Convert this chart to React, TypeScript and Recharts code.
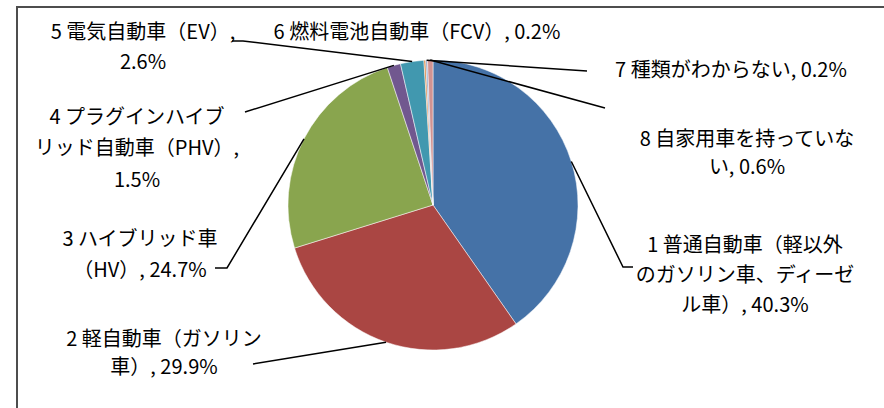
import { PieChart, Pie, Cell } from 'recharts'

const categories = [
  '1 普通自動車（軽以外のガソリン車、ディーゼル車）',
  '2 軽自動車（ガソリン車）',
  '3 ハイブリッド車（HV）',
  '4 プラグインハイブリッド自動車（PHV）',
  '5 電気自動車（EV）',
  '6 燃料電池自動車（FCV）',
  '7 種類がわからない',
  '8 自家用車を持っていない',
]
const shares = [40.3, 29.9, 24.7, 1.5, 2.6, 0.2, 0.2, 0.6]

// label text broken into lines as in the reference
const labelLines = [
  ['1 普通自動車（軽以外', 'のガソリン車、ディーゼ', 'ル車）, 40.3%'],
  ['2 軽自動車（ガソリン', '車）, 29.9%'],
  ['3 ハイブリッド車', '（HV）, 24.7%'],
  ['4 プラグインハイブ', 'リッド自動車（PHV）,', '1.5%'],
  ['5 電気自動車（EV）,', '2.6%'],
  ['6 燃料電池自動車（FCV）, 0.2%'],
  ['7 種類がわからない, 0.2%'],
  ['8 自家用車を持っていな', 'い, 0.6%'],
]

const colors = ['#4572A7', '#AA4643', '#89A54E', '#71588F', '#4198AF', '#DB843D', '#93A9CF', '#D19392']

// where each label sits and where its leader line bends
const labelLayout = [
  { x: 745, y: [243, 273, 303], leader: [[623, 267], [633, 267]] },
  { x: 164, y: [337, 365], leader: [[253, 364]] },
  { x: 140, y: [237, 268], leader: [[227, 268], [215, 268]] },
  { x: 137, y: [115, 146, 178], leader: [[245, 112]] },
  { x: 143, y: [30, 60], leader: [[243, 41], [232, 41]] },
  { x: 417, y: [30], leader: [] },
  { x: 731, y: [68], leader: [[587, 71]] },
  { x: 747, y: [137, 165], leader: [[605, 108]] },
]

const data = categories.map((name, i) => ({ name, value: shares[i] }))

const RAD = Math.PI / 180

const renderLabel = (props: any) => {
  const { cx, cy, midAngle, outerRadius, index } = props
  const lay = labelLayout[index]
  const ex = cx + outerRadius * Math.cos(-midAngle * RAD)
  const ey = cy + outerRadius * Math.sin(-midAngle * RAD)
  const pts = [[ex, ey], ...lay.leader]
  return (
    <g key={`lbl-${index}`}>
      {lay.leader.length > 0 && (
        <polyline
          points={pts.map((p) => p.join(',')).join(' ')}
          fill="none"
          stroke="#000"
          strokeWidth={1.5}
        />
      )}
      {labelLines[index].map((t, j) => (
        <text
          key={j}
          x={lay.x}
          y={lay.y[j]}
          textAnchor="middle"
          dominantBaseline="central"
          fontSize={20}
          fill="#000"
          fontFamily="'Noto Sans CJK JP', 'Noto Sans', sans-serif"
        >
          {t}
        </text>
      ))}
    </g>
  )
}

export default function App() {
  return (
    <div style={{ position: 'fixed', left: 0, top: 0, width: 884, height: 408, background: '#fff', overflow: 'hidden' }}>
      <div
        style={{
          position: 'absolute',
          left: 16,
          top: 6,
          width: 900,
          height: 500,
          borderTop: '2px solid #4d4d4d',
          borderLeft: '2px solid #4d4d4d',
        }}
      />
      <div style={{ position: 'absolute', left: 0, top: 0 }}>
        <PieChart width={884} height={408} margin={{ top: 0, right: 0, bottom: 0, left: 0 }}>
          <Pie
            data={data}
            dataKey="value"
            nameKey="name"
            cx={433}
            cy={205}
            outerRadius={145}
            startAngle={90}
            endAngle={-270}
            stroke="#fff"
            strokeWidth={0.5}
            label={renderLabel}
            labelLine={false}
            isAnimationActive={false}
          >
            {data.map((d, i) => (
              <Cell key={d.name} fill={colors[i]} />
            ))}
          </Pie>
        </PieChart>
      </div>
    </div>
  )
}
